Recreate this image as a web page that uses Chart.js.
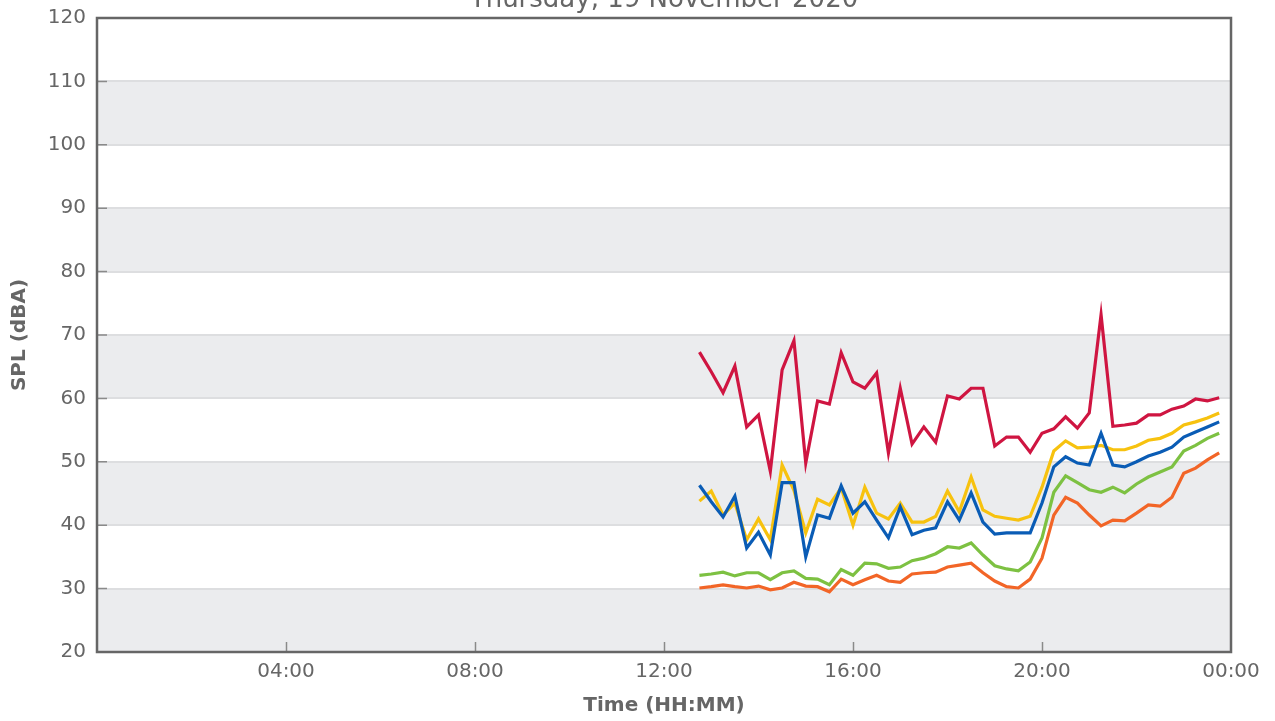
<!DOCTYPE html>
<html>
<head>
<meta charset="utf-8">
<script src="https://cdn.jsdelivr.net/npm/chart.js@4"></script>
<style>
  html, body { margin: 0; padding: 0; background: #fff; }
  #wrap { width: 1275px; height: 721px; }
</style>
</head>
<body>
<div id="wrap"><canvas id="splChart" width="1275" height="721"></canvas></div>
<script>
// time of day for each 15 min sample
const times = ['12:45', '13:00', '13:15', '13:30', '13:45', '14:00', '14:15', '14:30', '14:45',
    '15:00', '15:15', '15:30', '15:45', '16:00', '16:15', '16:30', '16:45',
    '17:00', '17:15', '17:30', '17:45', '18:00', '18:15', '18:30', '18:45',
    '19:00', '19:15', '19:30', '19:45', '20:00', '20:15', '20:30', '20:45',
    '21:00', '21:15', '21:30', '21:45', '22:00', '22:15', '22:30', '22:45',
    '23:00', '23:15', '23:30', '23:45'];

const laMax = [67.3, 64.2, 60.9, 65.1, 55.5, 57.4, 48.5, 64.5, 69.1, 49.8,
    59.6, 59.1, 67.2, 62.6, 61.6, 64.0, 51.4, 61.6, 52.8, 55.5,
    53.1, 60.4, 59.9, 61.6, 61.6, 52.5, 53.9, 53.9, 51.5, 54.5,
    55.2, 57.1, 55.3, 57.7, 73.2, 55.6, 55.8, 56.1, 57.4, 57.4,
    58.3, 58.8, 59.9, 59.6, 60.1];

const la10 = [43.8, 45.4, 41.6, 43.5, 37.7, 41.0, 37.7, 49.5, 45.5, 38.8,
    44.1, 43.2, 45.9, 40.0, 46.0, 41.9, 41.0, 43.5, 40.5, 40.5,
    41.4, 45.4, 42.1, 47.6, 42.4, 41.4, 41.1, 40.8, 41.4, 46.0,
    51.7, 53.3, 52.2, 52.3, 52.6, 51.9, 51.9, 52.5, 53.4, 53.7,
    54.5, 55.8, 56.3, 56.9, 57.7];

const laEq = [46.3, 43.7, 41.3, 44.6, 36.4, 38.9, 35.3, 46.7, 46.7, 35.0,
    41.6, 41.1, 46.2, 41.9, 43.7, 40.8, 38.0, 42.9, 38.5, 39.2,
    39.6, 43.7, 40.8, 45.1, 40.5, 38.6, 38.8, 38.8, 38.8, 43.5,
    49.2, 50.8, 49.8, 49.5, 54.5, 49.5, 49.2, 50.0, 50.9, 51.5,
    52.3, 53.9, 54.7, 55.5, 56.3];

const la90 = [32.1, 32.3, 32.6, 32.0, 32.5, 32.5, 31.4, 32.5, 32.8, 31.6,
    31.5, 30.6, 33.0, 32.1, 34.0, 33.9, 33.2, 33.4, 34.4, 34.8,
    35.5, 36.6, 36.4, 37.2, 35.3, 33.6, 33.1, 32.8, 34.2, 38.0,
    45.2, 47.8, 46.7, 45.6, 45.2, 46.0, 45.1, 46.5, 47.6, 48.4,
    49.2, 51.7, 52.6, 53.7, 54.5];

const laMin = [30.1, 30.3, 30.6, 30.3, 30.1, 30.4, 29.8, 30.1, 31.0, 30.4,
    30.3, 29.5, 31.5, 30.6, 31.4, 32.1, 31.2, 31.0, 32.3, 32.5,
    32.6, 33.4, 33.7, 34.0, 32.5, 31.2, 30.3, 30.1, 31.5, 34.8,
    41.6, 44.4, 43.5, 41.6, 39.9, 40.8, 40.7, 41.9, 43.2, 43.0,
    44.4, 48.2, 49.0, 50.3, 51.4];

const chartTitle = 'Thursday, 19 November 2020';
const xTitle = 'Time (HH:MM)';
const yTitle = 'SPL (dBA)';

const textColor = '#666666';

function toHours(t) {
    const parts = t.split(':');
    return parseInt(parts[0], 10) + parseInt(parts[1], 10) / 60;
}

function makeSeries(values) {
    return values.map((v, i) => ({ x: toHours(times[i]), y: v }));
}

// alternating grey bands behind the plot
const bandsPlugin = {
    id: 'bands',
    beforeDraw(chart) {
        const ctx = chart.ctx;
        const area = chart.chartArea;
        const y = chart.scales.y;
        ctx.save();
        ctx.fillStyle = '#ebecee';
        for (let v = 20; v < 120; v += 20) {
            const top = y.getPixelForValue(v + 10);
            const bottom = y.getPixelForValue(v);
            ctx.fillRect(area.left, top, area.right - area.left, bottom - top);
        }
        ctx.restore();
    }
};

// frame, inward tick marks and the (cut off) title
const framePlugin = {
    id: 'frame',
    afterDraw(chart) {
        const ctx = chart.ctx;
        const area = chart.chartArea;
        const x = chart.scales.x;
        const y = chart.scales.y;
        ctx.save();

        ctx.strokeStyle = '#8a8a8a';
        ctx.lineWidth = 1.5;
        ctx.beginPath();
        for (let h = 4; h < 24; h += 4) {
            const px = Math.round(x.getPixelForValue(h)) + 0.5;
            ctx.moveTo(px, area.bottom);
            ctx.lineTo(px, area.bottom - 10);
        }
        for (let v = 30; v < 120; v += 10) {
            const py = y.getPixelForValue(v);
            ctx.moveTo(area.left, py);
            ctx.lineTo(area.left + 10, py);
        }
        ctx.stroke();

        ctx.strokeStyle = '#666666';
        ctx.lineWidth = 2.5;
        ctx.strokeRect(area.left, area.top, area.right - area.left, area.bottom - area.top);

        ctx.fillStyle = textColor;
        ctx.font = '26px "DejaVu Sans"';
        ctx.textAlign = 'center';
        ctx.textBaseline = 'alphabetic';
        ctx.fillText(chartTitle, (area.left + area.right) / 2, 7);
        ctx.restore();
    }
};

function lineSet(label, values, color) {
    return {
        label: label,
        data: makeSeries(values),
        borderColor: color,
        backgroundColor: color,
        borderWidth: 3.2,
        pointRadius: 0,
        tension: 0,
        fill: false
    };
}

const ctx = document.getElementById('splChart').getContext('2d');
new Chart(ctx, {
    type: 'line',
    data: {
        datasets: [
            lineSet('LAmax', laMax, '#cf1541'),
            lineSet('LAeq', laEq, '#0a5cb5'),
            lineSet('LA10', la10, '#f7c20f'),
            lineSet('LA90', la90, '#7dc142'),
            lineSet('LAmin', laMin, '#f26527')
        ]
    },
    options: {
        responsive: false,
        animation: false,
        layout: { padding: { top: 18, right: 44, left: 0, bottom: 0 } },
        plugins: {
            legend: { display: false },
            tooltip: { enabled: false }
        },
        scales: {
            x: {
                type: 'linear',
                min: 0,
                max: 24,
                afterFit(scale) { scale.height = 69; },
                grid: { display: false, drawTicks: false },
                border: { display: false },
                ticks: {
                    stepSize: 4,
                    padding: 8,
                    maxRotation: 0,
                    color: textColor,
                    font: { family: 'DejaVu Sans', size: 20 },
                    callback: function(v) {
                        if (v === 0) return '';
                        const h = v % 24;
                        return (h < 10 ? '0' : '') + h + ':00';
                    }
                },
                title: {
                    display: true,
                    text: xTitle,
                    color: textColor,
                    padding: { top: 0, bottom: 3 },
                    font: { family: 'DejaVu Sans', size: 20, weight: 'bold' }
                }
            },
            y: {
                min: 20,
                max: 120,
                afterFit(scale) {
                    scale.width = 97;
                    scale.paddingTop = 0;
                    scale.paddingBottom = 0;
                },
                grid: { color: '#dddee0', lineWidth: 2, drawTicks: false },
                border: { display: false },
                ticks: {
                    stepSize: 10,
                    padding: 11,
                    color: textColor,
                    font: { family: 'DejaVu Sans', size: 20 }
                },
                title: {
                    display: true,
                    text: yTitle,
                    color: textColor,
                    padding: { top: 8, bottom: 0 },
                    font: { family: 'DejaVu Sans', size: 20, weight: 'bold' }
                }
            }
        }
    },
    plugins: [bandsPlugin, framePlugin]
});
</script>
</body>
</html>
